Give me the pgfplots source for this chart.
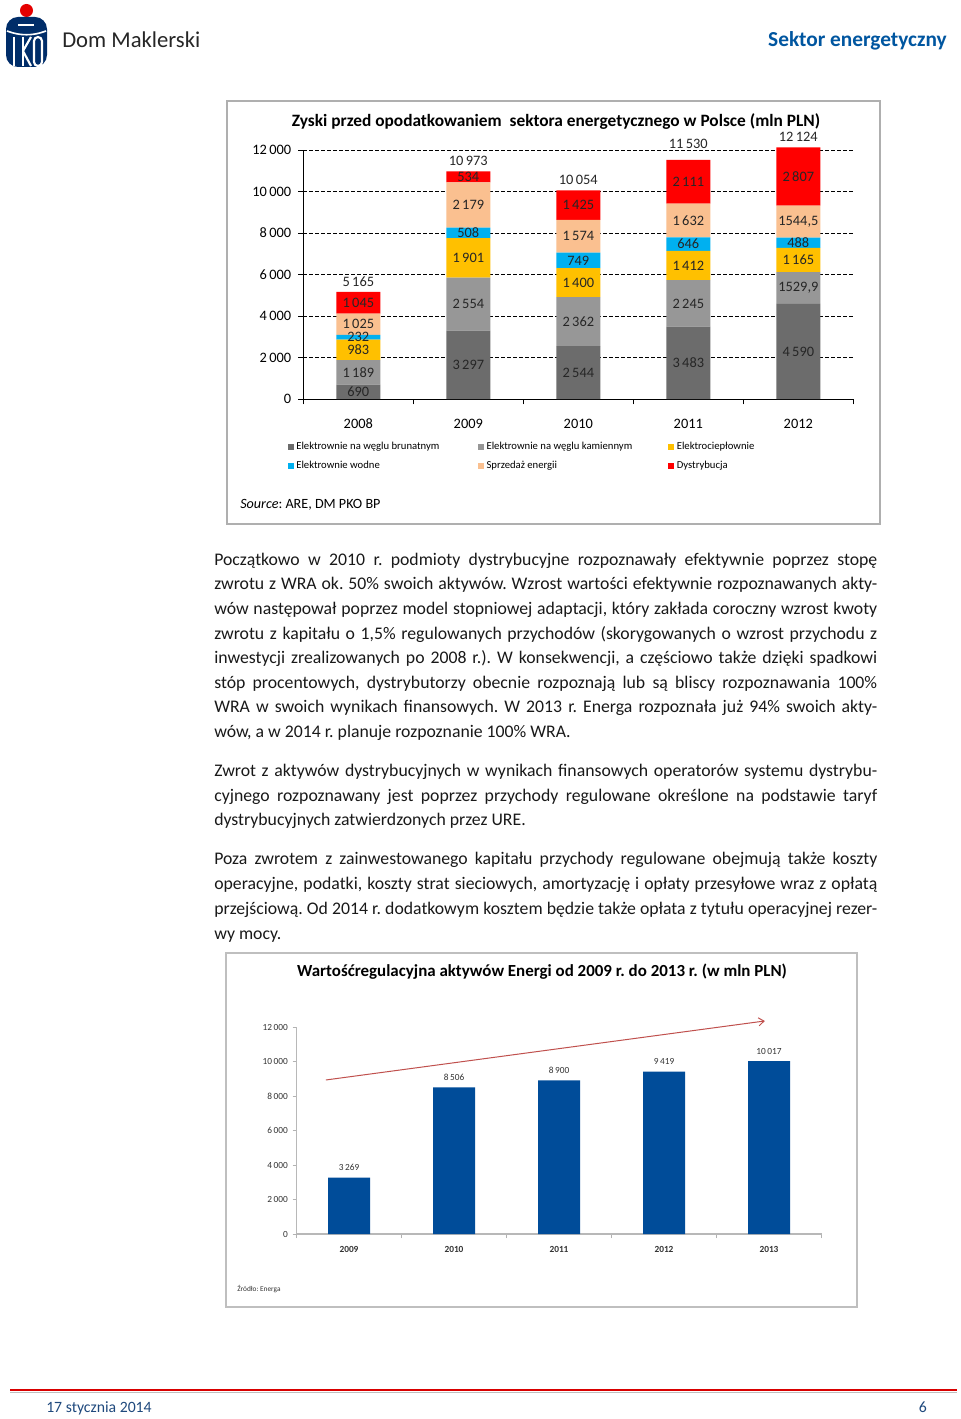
\documentclass[border=0pt]{standalone}
\usepackage{fontspec}
\setmainfont{Carlito}
\usepackage{pgfplots}
\pgfplotsset{compat=1.18}
\usetikzlibrary{arrows.meta}
\frenchspacing
\definecolor{cBrun}{RGB}{108,108,108}
\definecolor{cKam}{RGB}{151,151,151}
\definecolor{cElc}{RGB}{255,192,0}
\definecolor{cWod}{RGB}{0,176,240}
\definecolor{cSpr}{RGB}{250,192,144}
\definecolor{cDys}{RGB}{255,0,0}
\definecolor{cBar}{RGB}{0,76,153}
\definecolor{cArrow}{RGB}{192,80,77}
\definecolor{pkoblue}{RGB}{0,45,105}
\definecolor{hdrblue}{RGB}{0,86,160}
\definecolor{footblue}{RGB}{31,73,125}
\definecolor{framegray}{RGB}{175,175,175}
\definecolor{bodytext}{RGB}{25,25,25}
\newcommand{\fs}[1]{\fontsize{#1}{#1}\selectfont}
\newcommand{\jline}[1]{\makebox[497.25pt][s]{#1}}
\begin{document}
\begin{tikzpicture}
\begin{scope}[x=0.75pt,y=0.75pt]
\path[fill=white,use as bounding box] (0,0) rectangle (960,-1419);
% logo
\fill[red!90!black] (26.5,-10.5) circle (6.5);
\fill[pkoblue, rounded corners=9] (6,-17) rectangle (47,-67);
\draw[white, line width=1.6] (18,-25) -- (34,-25);
\draw[white, line width=1.2] (7,-31) .. controls (20,-36) and (33,-36) .. (46,-31);
\draw[white, line width=1.6] (14,-37) -- (14,-66);
\draw[white, line width=1.6] (23,-37) -- (23,-66);
\draw[white, line width=1.6] (23,-51) -- (31,-37);
\draw[white, line width=1.6] (23,-51) -- (31,-66);
\draw[white, line width=1.6, rounded corners=3] (34,-37) rectangle (42,-66);
\node[anchor=base west, inner sep=0, text=black!85] at (62,-48) {\fs{17}Dom Maklerski};
\node[anchor=base east, inner sep=0, text=hdrblue] at (947,-47) {\fs{16}\bfseries Sektor energetyczny};
% chart 1 frame
\draw[framegray, line width=1.5] (227,-101) rectangle (880,-524);
\node[inner sep=0] at (556,-122) {\fs{13}\bfseries Zyski przed opodatkowaniem\ \ sektora energetycznego w Polsce (mln PLN)};
\node[anchor=base west, inner sep=0] at (240,-508) {\fs{10.6}\textit{Source}: ARE, DM PKO BP};
% body text
\begin{scope}[every node/.style={anchor=base west, inner sep=0, text=bodytext, font=\fs{13.3}}]
\node at (214,-565) {\jline{Początkowo w 2010 r. podmioty dystrybucyjne rozpoznawały efektywnie poprzez stopę}};
\node at (214,-589.5) {\jline{zwrotu z WRA ok. 50\% swoich aktywów. Wzrost wartości efektywnie rozpoznawanych akty-}};
\node at (214,-614) {\jline{wów następował poprzez model stopniowej adaptacji, który zakłada coroczny wzrost kwoty}};
\node at (214,-639) {\jline{zwrotu z kapitału o 1,5\% regulowanych przychodów (skorygowanych o wzrost przychodu z}};
\node at (214,-663) {\jline{inwestycji zrealizowanych po 2008 r.). W konsekwencji, a częściowo także dzięki spadkowi}};
\node at (214,-688) {\jline{stóp procentowych, dystrybutorzy obecnie rozpoznają lub są bliscy rozpoznawania 100\%}};
\node at (214,-712.5) {\jline{WRA w swoich wynikach finansowych. W 2013 r. Energa rozpoznała już 94\% swoich akty-}};
\node at (214,-737) {wów, a w 2014 r. planuje rozpoznanie 100\% WRA.};
\node at (214,-776) {\jline{Zwrot z aktywów dystrybucyjnych w wynikach finansowych operatorów systemu dystrybu-}};
\node at (214,-801) {\jline{cyjnego rozpoznawany jest poprzez przychody regulowane określone na podstawie taryf}};
\node at (214,-825) {dystrybucyjnych zatwierdzonych przez URE.};
\node at (214,-864) {\jline{Poza zwrotem z zainwestowanego kapitału przychody regulowane obejmują także koszty}};
\node at (214,-889) {\jline{operacyjne, podatki, koszty strat sieciowych, amortyzację i opłaty przesyłowe wraz z opłatą}};
\node at (214,-914) {\jline{przejściową. Od 2014 r. dodatkowym kosztem będzie także opłata z tytułu operacyjnej rezer-}};
\node at (214,-939) {wy mocy.};
\end{scope}
% chart 2 frame
\draw[framegray!80, line width=1.5] (226,-953) rectangle (857,-1307);
\node[inner sep=0] at (542,-972) {\fs{12.7}\bfseries Wartośćregulacyjna aktywów Energi od 2009 r. do 2013 r. (w mln PLN)};
\node[anchor=base west, inner sep=0, text=black!80] at (237,-1291) {\fs{5.5}Źródło: Energa};
% footer
\draw[red!85!black, line width=1.5] (10,-1390) -- (957,-1390);
\draw[black!25, line width=0.8] (10,-1392.5) -- (957,-1392.5);
\node[anchor=base west, inner sep=0, text=footblue] at (46,-1412) {\fs{11.8}17 stycznia 2014};
\node[anchor=base east, inner sep=0, text=footblue] at (927,-1412) {\fs{11.8}6};
\end{scope}

% ===== chart 1 bars =====
\begin{axis}[
  at={(227.5pt,-299.25pt)}, anchor=south west,
  scale only axis, width=412.5pt, height=186.75pt,
  xmin=-0.5, xmax=4.5, ymin=0, ymax=12000,
  scaled y ticks=false,
  ybar stacked, bar width=33pt,
  axis x line*=bottom, axis y line*=left,
  axis line style={black, line width=0.6pt},
  xtick={-0.5,0.5,...,4.5}, x tick label as interval,
  xticklabels={2008,2009,2010,2011,2012},
  tick align=outside, major tick length=4pt,
  tick style={black, line width=0.6pt},
  ytick={0,2000,...,12000},
  yticklabels={0,2\,000,4\,000,6\,000,8\,000,10\,000,12\,000},
  ymajorgrids, grid style={black, line width=0.6pt, dash pattern=on 3pt off 1.5pt},
  tick label style={font=\fs{10.8}, text=black},
  yticklabel style={xshift=-1.5pt},
  xticklabel style={yshift=-7.5pt},
  clip=false,
  legend columns=3,
  legend cell align=left,
  legend style={at={(axis description cs:-0.029,-0.163)}, anchor=north west, draw=none, fill=none,
    font=\fs{8}, inner sep=0pt, row sep=3.2pt,
    /tikz/every even column/.append style={column sep=0pt}},
  legend image code/.code={\fill[#1,draw=none] (0pt,-2.2pt) rectangle (4.5pt,2.2pt);},
]
\addplot[fill=cBrun, draw=none] coordinates {(0,690) (1,3297) (2,2544) (3,3483) (4,4590)};
\addplot[fill=cKam, draw=none] coordinates {(0,1189) (1,2554) (2,2362) (3,2245) (4,1529.9)};
\addplot[fill=cElc, draw=none] coordinates {(0,983) (1,1901) (2,1400) (3,1412) (4,1165)};
\addplot[fill=cWod, draw=none] coordinates {(0,232) (1,508) (2,749) (3,646) (4,488)};
\addplot[fill=cSpr, draw=none] coordinates {(0,1025) (1,2179) (2,1574) (3,1632) (4,1544.5)};
\addplot[fill=cDys, draw=none] coordinates {(0,1045) (1,534) (2,1425) (3,2111) (4,2807)};
\addlegendentry{\makebox[134.2pt][l]{Elektrownie na węglu brunatnym}}
\addlegendentry{\makebox[134.2pt][l]{Elektrownie na węglu kamiennym}}
\addlegendentry{\makebox[134.2pt][l]{Elektrociepłownie}}
\addlegendentry{\makebox[134.2pt][l]{Elektrownie wodne}}
\addlegendentry{\makebox[134.2pt][l]{Sprzedaż energii}}
\addlegendentry{\makebox[134.2pt][l]{Dystrybucja}}
\end{axis}

% ===== chart 1 labels =====
\begin{axis}[
  at={(227.5pt,-299.25pt)}, anchor=south west,
  scale only axis, width=412.5pt, height=186.75pt,
  xmin=-0.5, xmax=4.5, ymin=0, ymax=12000,
  hide axis, clip=false,
  nodes near coords, point meta=explicit symbolic,
  every node near coord/.append style={anchor=center, font=\fs{10.8}, text=black!85, inner sep=0pt},
]
\addplot[draw=none] coordinates {
 (0,345)[690] (0,1284.5)[1\,189] (0,2370.5)[983] (0,2978)[232] (0,3606.5)[1\,025] (0,4641.5)[1\,045]
 (1,1648.5)[3\,297] (1,4574)[2\,554] (1,6801.5)[1\,901] (1,8006)[508] (1,9349.5)[2\,179] (1,10706)[534]
 (2,1272)[2\,544] (2,3725)[2\,362] (2,5606)[1\,400] (2,6680.5)[749] (2,7842)[1\,574] (2,9341.5)[1\,425]
 (3,1741.5)[3\,483] (3,4605.5)[2\,245] (3,6434)[1\,412] (3,7463)[646] (3,8602)[1\,632] (3,10473.5)[2\,111]
 (4,2295)[4\,590] (4,5355)[{1529,9}] (4,6702.4)[1\,165] (4,7528.9)[488] (4,8545.2)[{1544,5}] (4,10720.9)[2\,807]
};
\addplot[draw=none, every node near coord/.append style={anchor=south, yshift=4pt}] coordinates {
 (0,5165)[5\,165] (1,10973)[10\,973] (2,10054)[10\,054] (4,12124)[12\,124]
};
\addplot[draw=none, every node near coord/.append style={anchor=south, yshift=8.3pt}] coordinates {
 (3,11530)[11\,530]
};
\end{axis}

% ===== chart 2 =====
\begin{axis}[
  at={(222.375pt,-925.5pt)}, anchor=south west,
  scale only axis, width=393.75pt, height=155.25pt,
  xmin=-0.5, xmax=4.5, ymin=0, ymax=12000,
  scaled y ticks=false,
  clip=false,
  axis x line*=bottom, axis y line*=left,
  axis line style={draw=black!28, line width=0.8pt},
  xtick={-0.5,0.5,...,4.5}, x tick label as interval,
  xticklabels={2009,2010,2011,2012,2013},
  tick align=outside, major tick length=3pt,
  tick style={black!30, line width=0.6pt},
  ytick={0,2000,...,12000},
  yticklabels={0,2\,000,4\,000,6\,000,8\,000,10\,000,12\,000},
  tick label style={font=\fs{7}, text=black!80},
  xticklabel style={font=\fs{7}\bfseries, yshift=-2.8pt},
]
\addplot[ybar, bar width=31.5pt, fill=cBar, draw=none,
  nodes near coords, point meta=explicit symbolic,
  every node near coord/.append style={font=\fs{7}, text=black!80, inner sep=0pt, anchor=south, yshift=5pt}]
  coordinates {(0,3269)[3\,269] (1,8506)[8\,506] (2,8900)[8\,900] (3,9419)[9\,419] (4,10017)[10\,017]};
\addplot[sharp plot, draw=cArrow, line width=0.75pt, mark=none, -{Straight Barb[length=4pt,width=6pt]}]
  coordinates {(-0.22,8930) (3.96,12350)};
\end{axis}
\end{tikzpicture}
\end{document}
